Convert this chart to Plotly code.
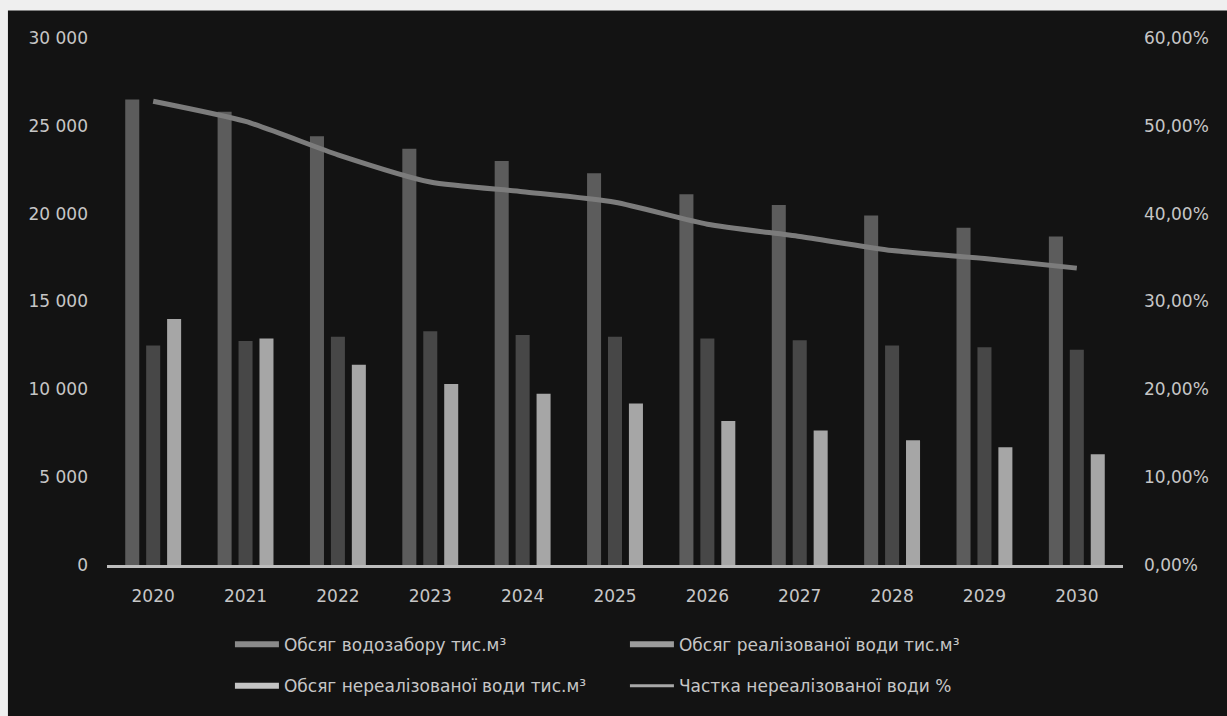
import plotly.graph_objects as go

years = ["2020", "2021", "2022", "2023", "2024", "2025", "2026", "2027", "2028", "2029", "2030"]
withdrawal = [26500, 25800, 24400, 23700, 23000, 22300, 21100, 20500, 19900, 19200, 18700]
realized = [12500, 12750, 13000, 13300, 13100, 13000, 12900, 12800, 12500, 12400, 12250]
unrealized = [14000, 12900, 11400, 10300, 9750, 9200, 8200, 7650, 7100, 6700, 6300]
unrealized_share = [0.528, 0.505, 0.467, 0.436, 0.425, 0.413, 0.388, 0.374, 0.358, 0.349, 0.338]

names = [
    "Обсяг водозабору тис.м³",
    "Обсяг реалізованої води тис.м³",
    "Обсяг нереалізованої води тис.м³",
    "Частка нереалізованої води %",
]

bar_colors = ["#5c5c5c", "#474747", "#a6a6a6"]
legend_colors = ["#8a8a8a", "#9c9c9c", "#c4c4c4", "#a8a8a8"]
line_color = "#7c7c7c"
text_color = "#c6c6c6"
font_family = "DejaVu Sans"

fig = go.Figure()

for vals, col in zip([withdrawal, realized, unrealized], bar_colors):
    fig.add_trace(go.Bar(
        x=years, y=vals, marker=dict(color=col, line=dict(width=0)),
        showlegend=False, yaxis="y",
    ))

fig.add_trace(go.Scatter(
    x=years, y=unrealized_share, mode="lines", yaxis="y2",
    line=dict(color=line_color, width=5, shape="spline", smoothing=0.6),
    showlegend=False,
))

# legend entries (two rows)
for i, (nm, col) in enumerate(zip(names, legend_colors)):
    fig.add_trace(go.Scatter(
        x=[None], y=[None], mode="lines", name=nm,
        line=dict(color=col, width=6 if i < 3 else 3),
        legend="legend" if i in (0, 1) else "legend2",
        yaxis="y",
    ))

legend_common = dict(
    orientation="h", xanchor="left", yanchor="middle",
    bgcolor="rgba(0,0,0,0)", font=dict(family=font_family, size=17, color=text_color),
    entrywidth=336, entrywidthmode="pixels", itemwidth=44, tracegroupgap=0,
)

tick_font = dict(family=font_family, size=17, color=text_color)

fig.update_layout(
    width=1227, height=716,
    paper_bgcolor="#131313", plot_bgcolor="#131313",
    margin=dict(l=107, r=104, t=38, b=148),
    barmode="group", bargap=0.32, bargroupgap=0.33,
    separators=", ",
    font=dict(family=font_family, size=17, color=text_color),
    xaxis=dict(
        showgrid=False, showline=True, linecolor="#bdbdbd", linewidth=3,
        ticks="", ticklabelstandoff=14, tickfont=tick_font,
    ),
    yaxis=dict(
        range=[0, 30000], tickvals=[0, 5000, 10000, 15000, 20000, 25000, 30000],
        tickformat=",d", showgrid=False, zeroline=False, ticks="",
        ticklabelstandoff=18, tickfont=tick_font,
    ),
    yaxis2=dict(
        range=[0, 0.6], tickvals=[0, 0.1, 0.2, 0.3, 0.4, 0.5, 0.6],
        tickformat=".2%", overlaying="y", side="right", showgrid=False,
        zeroline=False, ticks="", ticklabelstandoff=20, tickfont=tick_font,
    ),
    legend=dict(x=0.121, y=-0.151, **legend_common),
    legend2=dict(x=0.121, y=-0.230, **legend_common),
    shapes=[
        # light page edge along the top and left
        dict(type="rect", xref="paper", yref="paper", x0=-0.2, x1=1.2,
             y0=1.052, y1=1.2, fillcolor="#efefef", line=dict(width=0), layer="below"),
        dict(type="rect", xref="paper", yref="paper", x0=-0.2, x1=-0.0975,
             y0=-0.4, y1=1.2, fillcolor="#efefef", line=dict(width=0), layer="below"),
    ],
)

fig.write_html("out.html")
